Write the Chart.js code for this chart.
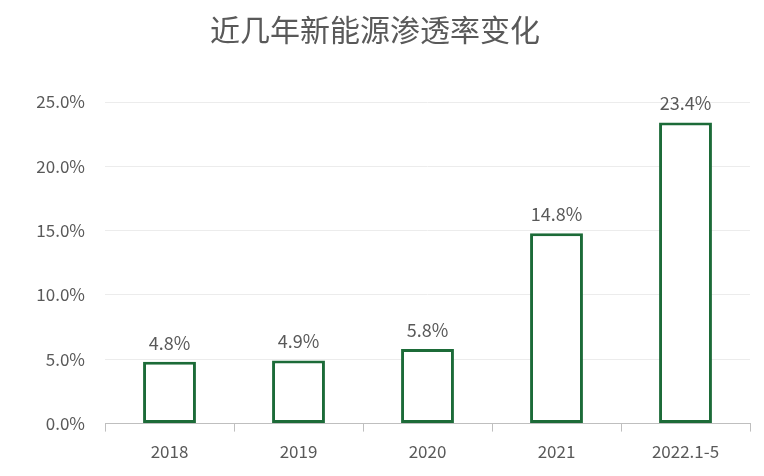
<!DOCTYPE html>
<html>
<head>
<meta charset="utf-8">
<script src="https://cdn.jsdelivr.net/npm/chart.js@4"></script>
<style>
  body { margin: 0; background: #fff; }
  #wrap { width: 764px; height: 476px; }
</style>
</head>
<body>
<div id="wrap"><canvas id="penetracao"></canvas></div>
<script>
const categorias = ["2018", "2019", "2020", "2021", "2022.1-5"];
const valores = [4.8, 4.9, 5.8, 14.8, 23.4];
const ticksY = [0, 5, 10, 15, 20, 25];

const fonte = "'Noto Sans CJK SC', 'Noto Sans', sans-serif";
const cinza = "#595959";

// rotulos acima das barras
const rotulos = {
  id: "rotulos",
  afterDatasetsDraw(chart) {
    const ctx = chart.ctx;
    const meta = chart.getDatasetMeta(0);
    ctx.save();
    ctx.font = "18px " + fonte;
    ctx.fillStyle = cinza;
    ctx.textAlign = "center";
    ctx.textBaseline = "bottom";
    meta.data.forEach((bar, i) => {
      ctx.fillText(valores[i].toFixed(1) + "%", bar.x, bar.y - 10);
    });
    ctx.restore();
  }
};

new Chart(document.getElementById("penetracao"), {
  type: "bar",
  data: {
    labels: categorias,
    datasets: [
      {
        data: valores,
        backgroundColor: "#FFFFFF",
        borderColor: "#1c6b38",
        borderWidth: 3,
        borderSkipped: false,
        categoryPercentage: 1,
        barPercentage: 0.41,
      },
    ],
  },
  options: {
    responsive: true,
    maintainAspectRatio: false,
    animation: false,
    layout: { padding: { left: 0, right: 14, bottom: 4 } },
    scales: {
      x: {
        grid: { display: true, drawOnChartArea: false, offset: true, color: "#bfbfbf", tickLength: 8 },
        border: { color: "#bfbfbf" },
        ticks: { color: cinza, font: { size: 17, family: fonte }, padding: 10 },
      },
      y: {
        min: 0,
        max: 25,
        afterFit: (s) => { s.width = 105; },
        afterBuildTicks: (s) => { s.ticks = ticksY.map((v) => ({ value: v })); },
        grid: { color: "#ececec", drawTicks: false },
        border: { display: false },
        ticks: {
          color: cinza,
          padding: 20,
          font: { size: 17, family: fonte },
          callback: (v) => v.toFixed(1) + "%",
        },
      },
    },
    plugins: {
      legend: { display: false },
      tooltip: { enabled: false },
      title: {
        display: true,
        text: "近几年新能源渗透率变化",
        color: cinza,
        font: { size: 30, family: fonte, weight: "normal" },
        padding: { top: 12, bottom: 54 },
      },
    },
  },
  plugins: [rotulos],
});
</script>
</body>
</html>
